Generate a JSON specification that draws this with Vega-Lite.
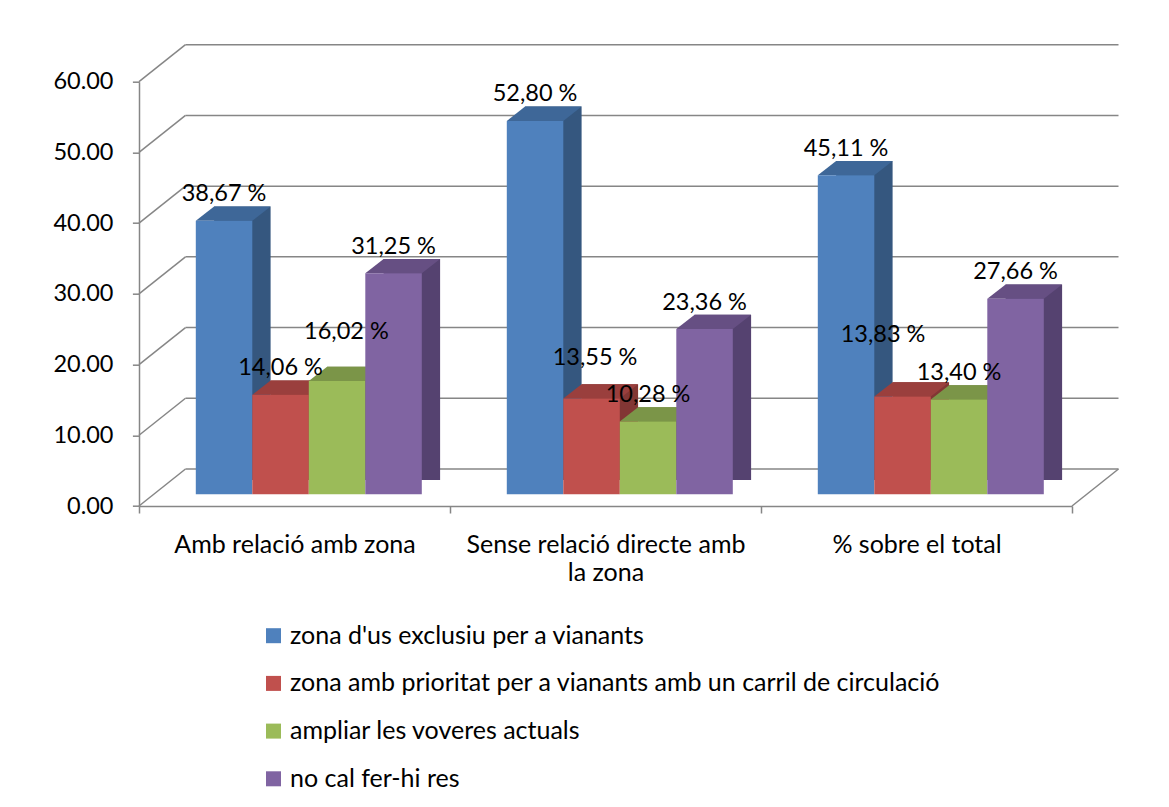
{
  "$schema": "https://vega.github.io/schema/vega-lite/v6.json",
  "width": 933,
  "height": 424.3,
  "autosize": {"type": "none"},
  "padding": {"left": 139, "top": 81.7, "right": 97, "bottom": 301},
  "background": "white",
  "config": {"view": {"stroke": null}, "font": "Lato"},
  "datasets": {
    "bars": [
      {"categoria": "Amb relació amb  zona", "serie": "zona d'us exclusiu per a vianants", "valor": 38.67, "etiqueta": "38,67 %"},
      {"categoria": "Amb relació amb  zona", "serie": "zona amb prioritat per a vianants amb un carril de circulació", "valor": 14.06, "etiqueta": "14,06 %"},
      {"categoria": "Amb relació amb  zona", "serie": "ampliar les voveres actuals", "valor": 16.02, "etiqueta": "16,02 %"},
      {"categoria": "Amb relació amb  zona", "serie": "no cal fer-hi res", "valor": 31.25, "etiqueta": "31,25 %"},
      {"categoria": "Sense relació directe amb la zona", "serie": "zona d'us exclusiu per a vianants", "valor": 52.80, "etiqueta": "52,80 %"},
      {"categoria": "Sense relació directe amb la zona", "serie": "zona amb prioritat per a vianants amb un carril de circulació", "valor": 13.55, "etiqueta": "13,55 %"},
      {"categoria": "Sense relació directe amb la zona", "serie": "ampliar les voveres actuals", "valor": 10.28, "etiqueta": "10,28 %"},
      {"categoria": "Sense relació directe amb la zona", "serie": "no cal fer-hi res", "valor": 23.36, "etiqueta": "23,36 %"},
      {"categoria": "% sobre el total", "serie": "zona d'us exclusiu per a vianants", "valor": 45.11, "etiqueta": "45,11 %"},
      {"categoria": "% sobre el total", "serie": "zona amb prioritat per a vianants amb un carril de circulació", "valor": 13.83, "etiqueta": "13,83 %"},
      {"categoria": "% sobre el total", "serie": "ampliar les voveres actuals", "valor": 13.40, "etiqueta": "13,40 %"},
      {"categoria": "% sobre el total", "serie": "no cal fer-hi res", "valor": 27.66, "etiqueta": "27,66 %"}
    ],
    "grid": [{"v": 0}, {"v": 10}, {"v": 20}, {"v": 30}, {"v": 40}, {"v": 50}, {"v": 60}]
  },
  "resolve": {"scale": {"x": "independent", "color": "independent"}, "axis": {"y": "independent"}},
  "layer": [
    {
      "data": {"name": "grid"},
      "layer": [
        {
          "mark": {"type": "rule", "color": "#868686", "strokeWidth": 1.5, "xOffset": 46.5, "x2Offset": 46.5, "yOffset": -37, "y2Offset": -37},
          "encoding": {
            "x": {"datum": 0, "type": "quantitative", "scale": {"domain": [0, 1]}, "axis": null},
            "x2": {"datum": 1},
            "y": {"field": "v", "type": "quantitative", "scale": {"domain": [0, 60]}, "axis": null}
          }
        },
        {
          "mark": {"type": "rule", "color": "#868686", "strokeWidth": 1.5, "x2Offset": 46.5, "y2Offset": -37},
          "encoding": {
            "x": {"datum": 0, "type": "quantitative", "scale": {"domain": [0, 1]}, "axis": null},
            "x2": {"datum": 0},
            "y": {"field": "v", "type": "quantitative", "scale": {"domain": [0, 60]}, "axis": null},
            "y2": {"field": "v"}
          }
        },
        {
          "transform": [{"filter": "datum.v == 0"}],
          "mark": {"type": "rule", "color": "#868686", "strokeWidth": 1.5, "x2Offset": 46.5, "y2Offset": -37},
          "encoding": {
            "x": {"datum": 1, "type": "quantitative", "scale": {"domain": [0, 1]}, "axis": null},
            "x2": {"datum": 1},
            "y": {"field": "v", "type": "quantitative", "scale": {"domain": [0, 60]}, "axis": null},
            "y2": {"field": "v"}
          }
        }
      ]
    },
    {
      "data": {"name": "bars"},
      "mark": {"type": "bar", "yOffset": -26, "y2Offset": -19},
      "encoding": {
        "x": {"field": "categoria", "type": "nominal", "scale": {"domain": ["Amb relació amb  zona", "Sense relació directe amb la zona", "% sobre el total"], "range": [32.6, 965.6], "paddingInner": 0.2733, "paddingOuter": 0.13665}, "axis": null},
        "xOffset": {"field": "serie", "type": "nominal", "scale": {"domain": ["zona d'us exclusiu per a vianants", "zona amb prioritat per a vianants amb un carril de circulació", "ampliar les voveres actuals", "no cal fer-hi res"], "paddingInner": 0, "paddingOuter": 0}},
        "y": {"field": "valor", "type": "quantitative", "scale": {"domain": [0, 60]}, "axis": null},
        "color": {"field": "serie", "type": "nominal", "scale": {"domain": ["zona d'us exclusiu per a vianants", "zona amb prioritat per a vianants amb un carril de circulació", "ampliar les voveres actuals", "no cal fer-hi res"], "range": ["#35577F", "#823634", "#687E3D", "#554270"]}, "legend": null}
      }
    },
    {
      "data": {"name": "bars"},
      "mark": {"type": "point", "shape": "M-28.25,0L28.25,0L46.55,-14.3L-9.95,-14.3Z", "size": 4, "filled": true, "opacity": 1, "strokeWidth": 0, "yOffset": -11.7},
      "encoding": {
        "x": {"field": "categoria", "type": "nominal", "scale": {"domain": ["Amb relació amb  zona", "Sense relació directe amb la zona", "% sobre el total"], "range": [14.3, 947.3], "paddingInner": 0.2733, "paddingOuter": 0.13665}, "axis": null},
        "xOffset": {"field": "serie", "type": "nominal", "scale": {"domain": ["zona d'us exclusiu per a vianants", "zona amb prioritat per a vianants amb un carril de circulació", "ampliar les voveres actuals", "no cal fer-hi res"], "paddingInner": 0, "paddingOuter": 0}},
        "y": {"field": "valor", "type": "quantitative", "scale": {"domain": [0, 60]}, "axis": null},
        "color": {"field": "serie", "type": "nominal", "scale": {"domain": ["zona d'us exclusiu per a vianants", "zona amb prioritat per a vianants amb un carril de circulació", "ampliar les voveres actuals", "no cal fer-hi res"], "range": ["#3E6798", "#9A3F3D", "#7B9548", "#664F83"]}, "legend": null}
      }
    },
    {
      "data": {"name": "bars"},
      "mark": {"type": "bar", "yOffset": -11.7, "y2Offset": -11.7},
      "encoding": {
        "x": {"field": "categoria", "type": "nominal", "scale": {"domain": ["Amb relació amb  zona", "Sense relació directe amb la zona", "% sobre el total"], "range": [14.3, 947.3], "paddingInner": 0.2733, "paddingOuter": 0.13665}, "axis": null},
        "xOffset": {"field": "serie", "type": "nominal", "scale": {"domain": ["zona d'us exclusiu per a vianants", "zona amb prioritat per a vianants amb un carril de circulació", "ampliar les voveres actuals", "no cal fer-hi res"], "paddingInner": 0, "paddingOuter": 0}},
        "y": {"field": "valor", "type": "quantitative", "scale": {"domain": [0, 60]}, "axis": null},
        "color": {
          "field": "serie", "type": "nominal",
          "scale": {"domain": ["zona d'us exclusiu per a vianants", "zona amb prioritat per a vianants amb un carril de circulació", "ampliar les voveres actuals", "no cal fer-hi res"], "range": ["#4F81BD", "#C0504D", "#9BBB59", "#8064A2"]},
          "legend": {"orient": "none", "legendX": 122, "legendY": 541.5, "title": null, "direction": "vertical", "symbolType": "square", "symbolSize": 225, "symbolStrokeWidth": 0, "labelFont": "Lato", "labelFontSize": 25, "labelColor": "#000000", "labelLimit": 900, "labelOffset": 4, "rowPadding": 21.7, "padding": 0}
        }
      }
    },
    {
      "data": {"name": "bars"},
      "encoding": {
        "x": {"field": "categoria", "type": "nominal", "scale": {"domain": ["Amb relació amb  zona", "Sense relació directe amb la zona", "% sobre el total"], "paddingInner": 0, "paddingOuter": 0},
          "axis": {"title": null, "labelFont": "Lato", "labelFontSize": 25, "labelColor": "#000000", "labelAngle": 0, "labelPadding": 19, "labelLineHeight": 28.4, "labelLimit": 500, "tickBand": "extent", "tickSize": 7, "tickColor": "#868686", "tickWidth": 1.5, "domainColor": "#868686", "domainWidth": 1.5, "grid": false,
            "labelExpr": "datum.label == 'Sense relació directe amb la zona' ? ['Sense relació directe amb', 'la zona'] : datum.label"}},
        "xOffset": {"field": "serie", "type": "nominal", "scale": {"domain": ["zona d'us exclusiu per a vianants", "zona amb prioritat per a vianants amb un carril de circulació", "ampliar les voveres actuals", "no cal fer-hi res"], "paddingInner": 0, "paddingOuter": 0.752}},
        "y": {"field": "valor", "type": "quantitative", "scale": {"domain": [0, 60]},
          "axis": {"title": null, "values": [0, 10, 20, 30, 40, 50, 60], "format": ".2f", "labelFont": "Lato", "labelFontSize": 23.5, "labelColor": "#000000", "labelPadding": 19.4, "tickSize": 6.6, "tickColor": "#868686", "tickWidth": 1.5, "domainColor": "#868686", "domainWidth": 1.5, "grid": false}},
        "text": {"field": "etiqueta", "type": "nominal"}
      },
      "layer": [
        {
          "transform": [{"filter": "!((datum.categoria == 'Amb relació amb  zona' && datum.serie == 'ampliar les voveres actuals') || (datum.categoria != 'Amb relació amb  zona' && datum.serie == 'zona amb prioritat per a vianants amb un carril de circulació'))"}],
          "mark": {"type": "text", "font": "Lato", "fontSize": 23.5, "color": "#000000", "baseline": "middle", "align": "center", "dx": 56.8, "dy": -38.3}
        },
        {
          "transform": [{"filter": "datum.categoria == 'Amb relació amb  zona' && datum.serie == 'ampliar les voveres actuals'"}],
          "mark": {"type": "text", "font": "Lato", "fontSize": 23.5, "color": "#000000", "baseline": "middle", "align": "center", "dx": 66.2, "dy": -60.7}
        },
        {
          "transform": [{"filter": "datum.categoria == 'Sense relació directe amb la zona' && datum.serie == 'zona amb prioritat per a vianants amb un carril de circulació'"}],
          "mark": {"type": "text", "font": "Lato", "fontSize": 23.5, "color": "#000000", "baseline": "middle", "align": "center", "dx": 60.3, "dy": -52.2}
        },
        {
          "transform": [{"filter": "datum.categoria == '% sobre el total' && datum.serie == 'zona amb prioritat per a vianants amb un carril de circulació'"}],
          "mark": {"type": "text", "font": "Lato", "fontSize": 23.5, "color": "#000000", "baseline": "middle", "align": "center", "dx": 37.3, "dy": -73.2}
        }
      ]
    }
  ]
}
